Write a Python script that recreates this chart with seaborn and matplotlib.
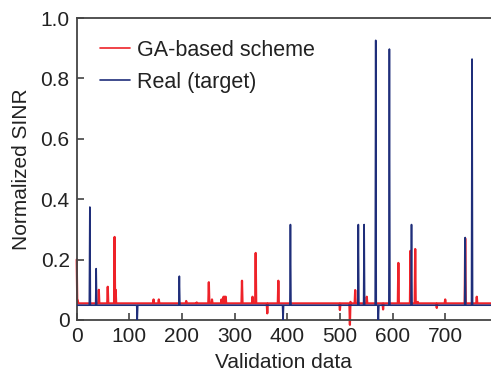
import numpy as np
import pandas as pd
import matplotlib
matplotlib.use("Agg")
import matplotlib.pyplot as plt
import seaborn as sns

# ---- data ----
n_points = 788
red_base = 0.055
blue_base = 0.049
red_spike_idx = [0, 1, 2, 42, 59, 72, 74, 146, 156, 208, 228, 251, 257, 275, 279, 281, 283,
                 314, 334, 340, 362, 383, 500, 519, 520, 529, 551, 582, 611, 634, 643,
                 648, 684, 700, 738, 760]
red_spike_val = [0.20, 0.07, 0.065, 0.10, 0.11, 0.275, 0.10, 0.068, 0.068, 0.063, 0.058, 0.125,
                 0.068, 0.068, 0.077, 0.077, 0.077, 0.13, 0.077, 0.222, 0.022, 0.13, 0.033,
                 -0.016, 0.06, 0.099, 0.077, 0.035, 0.189, 0.229, 0.235, 0.06, 0.04, 0.068,
                 0.27, 0.077]
blue_spike_idx = [25, 37, 115, 195, 392, 406, 535, 546, 568, 573, 594, 636, 738, 751]
blue_spike_val = [0.374, 0.17, 0.0, 0.145, 0.0, 0.316, 0.316, 0.316, 0.926, 0.0, 0.897,
                  0.316, 0.273, 0.864]
series_names = ["GA-based scheme", "Real (target)"]
x_ticks = [0, 100, 200, 300, 400, 500, 600, 700]
y_ticks = [0, 0.2, 0.4, 0.6, 0.8, 1.0]
y_tick_labels = ["0", "0.2", "0.4", "0.6", "0.8", "1.0"]

idx = np.arange(n_points)
red = np.full(n_points, red_base)
red[red_spike_idx] = red_spike_val
blue = np.full(n_points, blue_base)
blue[blue_spike_idx] = blue_spike_val

sns.set_style("ticks")
plt.rcParams['font.family'] = ['Liberation Sans', 'DejaVu Sans']
plt.rcParams['text.color'] = '#222222'

fig = plt.figure(figsize=(4.91, 3.83), dpi=100)
ax = fig.add_axes([0.1562, 0.1645, 0.8438, 0.7885])

sns.lineplot(x=idx, y=red, ax=ax, color='#EE2229', linewidth=1.6,
             label=series_names[0], clip_on=False, zorder=2)
sns.lineplot(x=idx, y=blue, ax=ax, color='#1F2E7A', linewidth=1.2,
             label=series_names[1], zorder=3)

ax.set_xlim(0, 787)
ax.set_ylim(0, 1.0)
ax.set_xticks(x_ticks)
ax.set_yticks(y_ticks)
ax.set_yticklabels(y_tick_labels)
ax.tick_params(direction='in', length=5, width=1.2, colors='#444444',
               labelsize=15, labelcolor='#222222', pad=5)
ax.set_xlabel("Validation data", fontsize=15, color='#222222', labelpad=5)
ax.set_ylabel("Normalized SINR", fontsize=15, color='#222222', labelpad=7)
for s in ['left', 'bottom', 'top']:
    ax.spines[s].set_linewidth(1.3)
    ax.spines[s].set_color('#444444')
ax.spines['right'].set_visible(False)

leg = ax.legend(loc='upper left', bbox_to_anchor=(0.015, 0.985), frameon=False,
                fontsize=15.5, handlelength=1.4, handletextpad=0.3,
                labelspacing=0.52, borderaxespad=0.4)
for h in leg.get_lines():
    h.set_linewidth(1.2)

fig.savefig("out.png", dpi=100)
